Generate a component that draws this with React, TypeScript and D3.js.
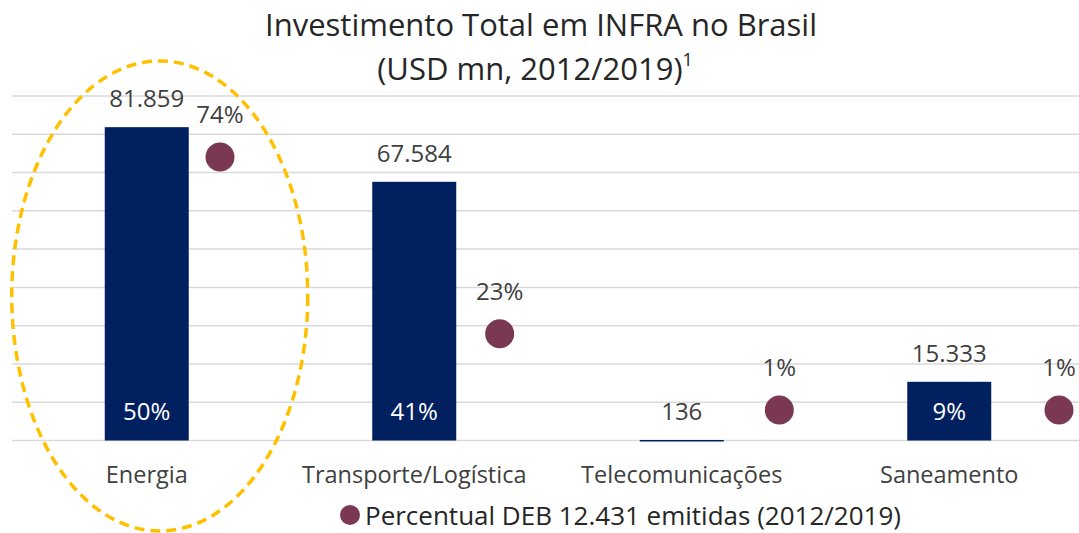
import React from "react";
import * as d3 from "d3";

const categories = ["Energia", "Transporte/Logística", "Telecomunicações", "Saneamento"];
const investment = [81859, 67584, 136, 15333];
const investmentLabels = ["81.859", "67.584", "136", "15.333"];
const debPercent = [74, 23, 1, 1];
const yTicks = [0, 10000, 20000, 30000, 40000, 50000, 60000, 70000, 80000, 90000];
const titleLines = ["Investimento Total em INFRA no Brasil", "(USD mn, 2012/2019)"];
const legendLabel = "Percentual DEB 12.431 emitidas (2012/2019)";

const W = 1079;
const H = 533;
const FONT = "'Open Sans', Lato, sans-serif";
const BAR = "#002060";
const DOT = "#7B3852";

export default function App() {
  const x = d3.scaleBand<string>().domain(categories).range([13, 1083]).paddingInner(0.686).paddingOuter(0.343);
  const xp = d3.scalePoint<string>().domain(categories).range([220, 1059]);
  const y = d3.scaleLinear().domain([0, 90000]).range([440.5, 96]);
  const y2 = d3.scaleLinear().domain([0, 100]).range([413.5, 66.9]);
  const total = d3.sum(investment);
  const fmtShare = (v: number) => {
    const p = Math.round((v / total) * 100);
    return p > 0 ? `${p}%` : "";
  };
  const ex = x("Energia")! + x.bandwidth() / 2 + 13;

  return (
    <svg width={W} height={H} style={{ position: "absolute", left: 0, top: 0, background: "#fff" }} fontFamily={FONT}>
      <rect width={W} height={H} fill="#fff" />
      <text x={541} y={36} textAnchor="middle" fontSize={31} fill="#262626">{titleLines[0]}</text>
      <text x={535} y={80} textAnchor="middle" fontSize={31} fill="#262626">
        {titleLines[1]}
        <tspan fontSize={18} dy={-14}>1</tspan>
      </text>
      {yTicks.map((t) => (
        <line key={t} x1={12} x2={1079} y1={y(t)} y2={y(t)} stroke="#d9d9d9" strokeWidth={1.5} />
      ))}
      {categories.map((c, i) => {
        const bx = x(c)!;
        const bw = x.bandwidth();
        const top = y(investment[i]);
        return (
          <g key={c}>
            <rect x={bx} y={top} width={bw} height={Math.max(1.5, y(0) - top)} fill={BAR} />
            <text x={bx + bw / 2} y={top - 20} textAnchor="middle" fontSize={24} fill="#404040">{investmentLabels[i]}</text>
            <text x={bx + bw / 2} y={420} textAnchor="middle" fontSize={24} fill="#fff">{fmtShare(investment[i])}</text>
            <text x={bx + bw / 2} y={483} textAnchor="middle" fontSize={23.5} fill="#404040">{c}</text>
            <circle cx={xp(c)!} cy={y2(debPercent[i])} r={14.5} fill={DOT} />
            <text x={xp(c)!} y={y2(debPercent[i]) - 34} textAnchor="middle" fontSize={24} fill="#404040">{`${debPercent[i]}%`}</text>
          </g>
        );
      })}
      <ellipse cx={ex} cy={296} rx={148} ry={235} fill="none" stroke="#FFC000" strokeWidth={3.5} strokeDasharray="10 6" />
      <circle cx={350} cy={515} r={10} fill={DOT} />
      <text x={365} y={525} fontSize={26} fill="#262626">{legendLabel}</text>
    </svg>
  );
}
